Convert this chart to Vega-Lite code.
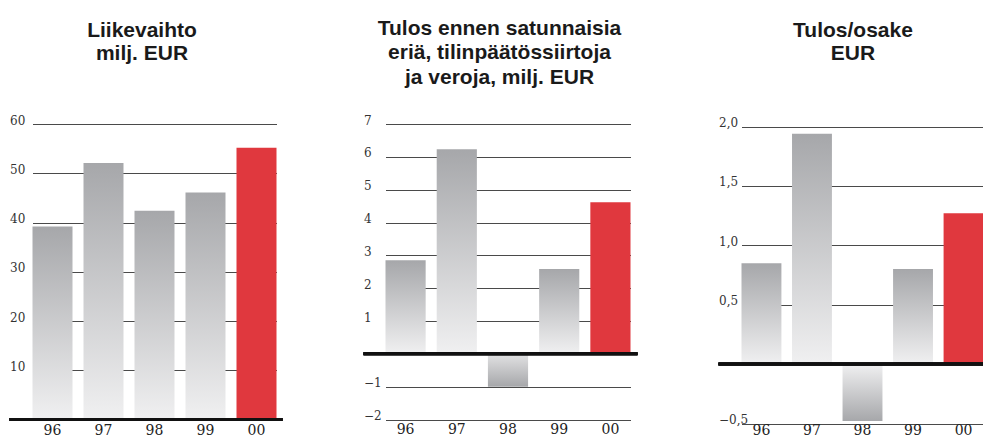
{
  "$schema": "https://vega.github.io/schema/vega-lite/v6.json",
  "background": "white",
  "padding": {"left": 7.5, "top": 17, "right": 0, "bottom": 0},
  "spacing": 81,
  "bounds": "flush",
  "config": {"view": {"stroke": null}},
  "hconcat": [
    {
      "width": 273,
      "height": 295.5,
      "title": {"text": ["Liikevaihto", "milj. EUR"], "anchor": "middle", "frame": "group", "offset": 50.1, "dx": -4, "font": "Liberation Sans", "fontSize": 21, "fontWeight": "bold", "color": "#1a1a1a", "lineHeight": 23},
      "data": {"values": [
        {"year": "96", "v": 39.2},
        {"year": "97", "v": 52.1},
        {"year": "98", "v": 42.4},
        {"year": "99", "v": 46.1},
        {"year": "00", "v": 55.2}
      ]},
      "layer": [
        {
          "transform": [{"filter": "datum.year !== '00' && datum.v >= 0"}],
          "mark": {"type": "bar", "fill": {"gradient": "linear", "x1": 0, "y1": 0, "x2": 0, "y2": 1, "stops": [{"offset": 0, "color": "#a6a7aa"}, {"offset": 1, "color": "#f0f0f1"}]}},
          "encoding": {
            "x": {"field": "year", "type": "ordinal", "scale": {"domain": ["96", "97", "98", "99", "00"], "range": [23, 267], "paddingInner": 0.2157, "paddingOuter": 0}, "axis": {"title": null, "domain": false, "ticks": false, "tickSize": 0, "labelPadding": 15, "labelBaseline": "alphabetic", "labelFont": "DejaVu Serif", "labelFontSize": 14, "labelColor": "#222", "labelAngle": 0}},
            "y": {"field": "v", "type": "quantitative", "scale": {"domain": [0, 60], "nice": false}, "axis": {"title": null, "domain": false, "ticks": false, "tickSize": 0, "grid": true, "gridColor": "#4a4a4a", "gridWidth": 1, "values": [0, 10, 20, 30, 40, 50, 60], "labelAlign": "left", "labelBaseline": "alphabetic", "labelPadding": 0, "labelDx": 1, "labelDy": -5, "labelFont": "DejaVu Serif", "labelFontSize": 12, "labelColor": "#333", "labelExpr": "datum.value == 0 ? '' : format(datum.value, 'd')"}}
          }
        },
        {
          "transform": [{"filter": "datum.year === '00'"}],
          "mark": {"type": "bar", "fill": "#e0383e"},
          "encoding": {
            "x": {"field": "year", "type": "ordinal", "scale": {"domain": ["96", "97", "98", "99", "00"], "range": [23, 267], "paddingInner": 0.2157, "paddingOuter": 0}, "axis": {"title": null, "domain": false, "ticks": false, "tickSize": 0, "labelPadding": 15, "labelBaseline": "alphabetic", "labelFont": "DejaVu Serif", "labelFontSize": 14, "labelColor": "#222", "labelAngle": 0}},
            "y": {"field": "v", "type": "quantitative", "scale": {"domain": [0, 60], "nice": false}, "axis": {"title": null, "domain": false, "ticks": false, "tickSize": 0, "grid": true, "gridColor": "#4a4a4a", "gridWidth": 1, "values": [0, 10, 20, 30, 40, 50, 60], "labelAlign": "left", "labelBaseline": "alphabetic", "labelPadding": 0, "labelDx": 1, "labelDy": -5, "labelFont": "DejaVu Serif", "labelFontSize": 12, "labelColor": "#333", "labelExpr": "datum.value == 0 ? '' : format(datum.value, 'd')"}}
          }
        },
        {
          "mark": {"type": "rule", "color": "#111111", "strokeWidth": 3},
          "encoding": {"y": {"datum": 0, "type": "quantitative", "scale": {"domain": [0, 60], "nice": false}, "axis": {"title": null, "domain": false, "ticks": false, "tickSize": 0, "grid": true, "gridColor": "#4a4a4a", "gridWidth": 1, "values": [0, 10, 20, 30, 40, 50, 60], "labelAlign": "left", "labelBaseline": "alphabetic", "labelPadding": 0, "labelDx": 1, "labelDy": -5, "labelFont": "DejaVu Serif", "labelFontSize": 12, "labelColor": "#333", "labelExpr": "datum.value == 0 ? '' : format(datum.value, 'd')"}}}
        }
      ]
    },
    {
      "width": 274,
      "height": 295.5,
      "title": {"text": ["Tulos ennen satunnaisia", "eriä, tilinpäätössiirtoja", "ja veroja, milj. EUR"], "anchor": "middle", "frame": "group", "offset": 26.1, "dx": -1, "font": "Liberation Sans", "fontSize": 21, "fontWeight": "bold", "color": "#1a1a1a", "lineHeight": 24.5},
      "data": {"values": [
        {"year": "96", "v": 2.85},
        {"year": "97", "v": 6.23},
        {"year": "98", "v": -1.0},
        {"year": "99", "v": 2.58},
        {"year": "00", "v": 4.62}
      ]},
      "layer": [
        {
          "transform": [{"filter": "datum.year !== '00' && datum.v >= 0"}],
          "mark": {"type": "bar", "fill": {"gradient": "linear", "x1": 0, "y1": 0, "x2": 0, "y2": 1, "stops": [{"offset": 0, "color": "#a6a7aa"}, {"offset": 1, "color": "#f0f0f1"}]}},
          "encoding": {
            "x": {"field": "year", "type": "ordinal", "scale": {"domain": ["96", "97", "98", "99", "00"], "range": [22, 267], "paddingInner": 0.2157, "paddingOuter": 0}, "axis": {"title": null, "domain": false, "ticks": false, "tickSize": 0, "labelPadding": 14, "labelBaseline": "alphabetic", "labelFont": "DejaVu Serif", "labelFontSize": 14, "labelColor": "#222", "labelAngle": 0}},
            "y": {"field": "v", "type": "quantitative", "scale": {"domain": [-2, 7], "nice": false}, "axis": {"title": null, "domain": false, "ticks": false, "tickSize": 0, "grid": true, "gridColor": "#4a4a4a", "gridWidth": 1, "values": [-2, -1, 0, 1, 2, 3, 4, 5, 6, 7], "labelAlign": "left", "labelBaseline": "alphabetic", "labelPadding": 0, "labelDx": 1, "labelDy": -5, "labelFont": "DejaVu Serif", "labelFontSize": 12, "labelColor": "#333", "labelExpr": "datum.value == 0 ? '' : format(datum.value, 'd')"}}
          }
        },
        {
          "transform": [{"filter": "datum.v < 0"}],
          "mark": {"type": "bar", "fill": {"gradient": "linear", "x1": 0, "y1": 0, "x2": 0, "y2": 1, "stops": [{"offset": 0, "color": "#e2e2e3"}, {"offset": 1, "color": "#a6a7aa"}]}},
          "encoding": {
            "x": {"field": "year", "type": "ordinal", "scale": {"domain": ["96", "97", "98", "99", "00"], "range": [22, 267], "paddingInner": 0.2157, "paddingOuter": 0}, "axis": {"title": null, "domain": false, "ticks": false, "tickSize": 0, "labelPadding": 14, "labelBaseline": "alphabetic", "labelFont": "DejaVu Serif", "labelFontSize": 14, "labelColor": "#222", "labelAngle": 0}},
            "y": {"field": "v", "type": "quantitative", "scale": {"domain": [-2, 7], "nice": false}, "axis": {"title": null, "domain": false, "ticks": false, "tickSize": 0, "grid": true, "gridColor": "#4a4a4a", "gridWidth": 1, "values": [-2, -1, 0, 1, 2, 3, 4, 5, 6, 7], "labelAlign": "left", "labelBaseline": "alphabetic", "labelPadding": 0, "labelDx": 1, "labelDy": -5, "labelFont": "DejaVu Serif", "labelFontSize": 12, "labelColor": "#333", "labelExpr": "datum.value == 0 ? '' : format(datum.value, 'd')"}}
          }
        },
        {
          "transform": [{"filter": "datum.year === '00'"}],
          "mark": {"type": "bar", "fill": "#e0383e"},
          "encoding": {
            "x": {"field": "year", "type": "ordinal", "scale": {"domain": ["96", "97", "98", "99", "00"], "range": [22, 267], "paddingInner": 0.2157, "paddingOuter": 0}, "axis": {"title": null, "domain": false, "ticks": false, "tickSize": 0, "labelPadding": 14, "labelBaseline": "alphabetic", "labelFont": "DejaVu Serif", "labelFontSize": 14, "labelColor": "#222", "labelAngle": 0}},
            "y": {"field": "v", "type": "quantitative", "scale": {"domain": [-2, 7], "nice": false}, "axis": {"title": null, "domain": false, "ticks": false, "tickSize": 0, "grid": true, "gridColor": "#4a4a4a", "gridWidth": 1, "values": [-2, -1, 0, 1, 2, 3, 4, 5, 6, 7], "labelAlign": "left", "labelBaseline": "alphabetic", "labelPadding": 0, "labelDx": 1, "labelDy": -5, "labelFont": "DejaVu Serif", "labelFontSize": 12, "labelColor": "#333", "labelExpr": "datum.value == 0 ? '' : format(datum.value, 'd')"}}
          }
        },
        {
          "mark": {"type": "rule", "color": "#111111", "strokeWidth": 3},
          "encoding": {"y": {"datum": 0, "type": "quantitative", "scale": {"domain": [-2, 7], "nice": false}, "axis": {"title": null, "domain": false, "ticks": false, "tickSize": 0, "grid": true, "gridColor": "#4a4a4a", "gridWidth": 1, "values": [-2, -1, 0, 1, 2, 3, 4, 5, 6, 7], "labelAlign": "left", "labelBaseline": "alphabetic", "labelPadding": 0, "labelDx": 1, "labelDy": -5, "labelFont": "DejaVu Serif", "labelFontSize": 12, "labelColor": "#333", "labelExpr": "datum.value == 0 ? '' : format(datum.value, 'd')"}}}
        }
      ]
    },
    {
      "width": 265,
      "height": 299.5,
      "title": {"text": ["Tulos/osake", "EUR"], "anchor": "middle", "frame": "group", "offset": 52.7, "dx": 2, "font": "Liberation Sans", "fontSize": 21, "fontWeight": "bold", "color": "#1a1a1a", "lineHeight": 23},
      "data": {"values": [
        {"year": "96", "v": 0.85},
        {"year": "97", "v": 1.94},
        {"year": "98", "v": -0.48},
        {"year": "99", "v": 0.80},
        {"year": "00", "v": 1.27}
      ]},
      "layer": [
        {
          "transform": [{"filter": "datum.year !== '00' && datum.v >= 0"}],
          "mark": {"type": "bar", "fill": {"gradient": "linear", "x1": 0, "y1": 0, "x2": 0, "y2": 1, "stops": [{"offset": 0, "color": "#a6a7aa"}, {"offset": 1, "color": "#f0f0f1"}]}},
          "encoding": {
            "x": {"field": "year", "type": "ordinal", "scale": {"domain": ["96", "97", "98", "99", "00"], "range": [23, 265], "paddingInner": 0.21, "paddingOuter": 0}, "axis": {"title": null, "domain": false, "ticks": false, "tickSize": 0, "labelPadding": 10.5, "labelBaseline": "alphabetic", "labelFont": "DejaVu Serif", "labelFontSize": 14, "labelColor": "#222", "labelAngle": 0}},
            "y": {"field": "v", "type": "quantitative", "scale": {"domain": [-0.5, 2.022], "nice": false}, "axis": {"title": null, "domain": false, "ticks": false, "tickSize": 0, "grid": true, "gridColor": "#4a4a4a", "gridWidth": 1, "values": [-0.5, 0, 0.5, 1, 1.5, 2], "labelAlign": "left", "labelBaseline": "alphabetic", "labelPadding": 0, "labelDx": 1, "labelDy": -5, "labelFont": "DejaVu Serif", "labelFontSize": 12, "labelColor": "#333", "labelExpr": "datum.value == 0 ? '' : replace(format(datum.value, '.1f'), '.', ',')"}}
          }
        },
        {
          "transform": [{"filter": "datum.v < 0"}],
          "mark": {"type": "bar", "fill": {"gradient": "linear", "x1": 0, "y1": 0, "x2": 0, "y2": 1, "stops": [{"offset": 0, "color": "#f0f0f1"}, {"offset": 1, "color": "#a6a7aa"}]}},
          "encoding": {
            "x": {"field": "year", "type": "ordinal", "scale": {"domain": ["96", "97", "98", "99", "00"], "range": [23, 265], "paddingInner": 0.21, "paddingOuter": 0}, "axis": {"title": null, "domain": false, "ticks": false, "tickSize": 0, "labelPadding": 10.5, "labelBaseline": "alphabetic", "labelFont": "DejaVu Serif", "labelFontSize": 14, "labelColor": "#222", "labelAngle": 0}},
            "y": {"field": "v", "type": "quantitative", "scale": {"domain": [-0.5, 2.022], "nice": false}, "axis": {"title": null, "domain": false, "ticks": false, "tickSize": 0, "grid": true, "gridColor": "#4a4a4a", "gridWidth": 1, "values": [-0.5, 0, 0.5, 1, 1.5, 2], "labelAlign": "left", "labelBaseline": "alphabetic", "labelPadding": 0, "labelDx": 1, "labelDy": -5, "labelFont": "DejaVu Serif", "labelFontSize": 12, "labelColor": "#333", "labelExpr": "datum.value == 0 ? '' : replace(format(datum.value, '.1f'), '.', ',')"}}
          }
        },
        {
          "transform": [{"filter": "datum.year === '00'"}],
          "mark": {"type": "bar", "fill": "#e0383e"},
          "encoding": {
            "x": {"field": "year", "type": "ordinal", "scale": {"domain": ["96", "97", "98", "99", "00"], "range": [23, 265], "paddingInner": 0.21, "paddingOuter": 0}, "axis": {"title": null, "domain": false, "ticks": false, "tickSize": 0, "labelPadding": 10.5, "labelBaseline": "alphabetic", "labelFont": "DejaVu Serif", "labelFontSize": 14, "labelColor": "#222", "labelAngle": 0}},
            "y": {"field": "v", "type": "quantitative", "scale": {"domain": [-0.5, 2.022], "nice": false}, "axis": {"title": null, "domain": false, "ticks": false, "tickSize": 0, "grid": true, "gridColor": "#4a4a4a", "gridWidth": 1, "values": [-0.5, 0, 0.5, 1, 1.5, 2], "labelAlign": "left", "labelBaseline": "alphabetic", "labelPadding": 0, "labelDx": 1, "labelDy": -5, "labelFont": "DejaVu Serif", "labelFontSize": 12, "labelColor": "#333", "labelExpr": "datum.value == 0 ? '' : replace(format(datum.value, '.1f'), '.', ',')"}}
          }
        },
        {
          "mark": {"type": "rule", "color": "#111111", "strokeWidth": 3},
          "encoding": {"y": {"datum": 0, "type": "quantitative", "scale": {"domain": [-0.5, 2.022], "nice": false}, "axis": {"title": null, "domain": false, "ticks": false, "tickSize": 0, "grid": true, "gridColor": "#4a4a4a", "gridWidth": 1, "values": [-0.5, 0, 0.5, 1, 1.5, 2], "labelAlign": "left", "labelBaseline": "alphabetic", "labelPadding": 0, "labelDx": 1, "labelDy": -5, "labelFont": "DejaVu Serif", "labelFontSize": 12, "labelColor": "#333", "labelExpr": "datum.value == 0 ? '' : replace(format(datum.value, '.1f'), '.', ',')"}}}
        }
      ]
    }
  ]
}
